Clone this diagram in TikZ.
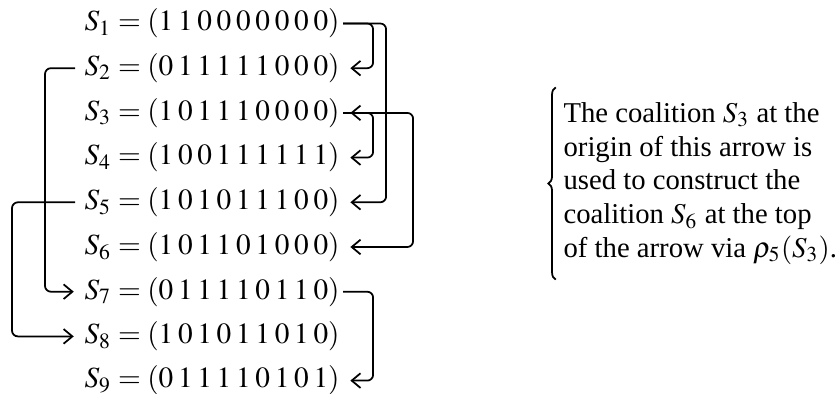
\documentclass[tikz,border=0pt]{standalone}
\usepackage{mathptmx}
\usepackage{fontspec}
\setmainfont{Liberation Serif}
\usetikzlibrary{arrows.meta,decorations.pathreplacing}
\newcommand{\bgap}{\mskip2.9mu}

\begin{document}
\begin{tikzpicture}[
  x=0.3415pt, y=-0.3415pt,
  row/.style={anchor=west, inner sep=0pt, text height=7pt, text depth=2pt},
  link/.style={semithick, rounded corners=2pt, shorten <=1pt},
  arr/.style={link, -{Straight Barb[length=3pt,width=5pt]}, shorten >=3.5pt},
  dbl/.style={link, {Straight Barb[length=3pt,width=5pt]}-{Straight Barb[length=3pt,width=5pt]}, shorten <=3.5pt, shorten >=3.5pt},
  note/.style={anchor=north west, inner sep=0pt, align=left, font={\fontsize{9.8}{11.5}\selectfont}},
  brace/.style={semithick, decorate, decoration={brace, amplitude=2.5pt}}
]
\useasboundingbox (0,0) rectangle (839,393);

% the coalitions
\node [row] (s1) at (84,23.5) {$S_1 = (1\bgap1\bgap0\bgap0\bgap0\bgap0\bgap0\bgap0\bgap0)$};
\node [row] (s2) at (84,68.2) {$S_2 = (0\bgap1\bgap1\bgap1\bgap1\bgap1\bgap0\bgap0\bgap0)$};
\node [row] (s3) at (84,112.9) {$S_3 = (1\bgap0\bgap1\bgap1\bgap1\bgap0\bgap0\bgap0\bgap0)$};
\node [row] (s4) at (84,157.6) {$S_4 = (1\bgap0\bgap0\bgap1\bgap1\bgap1\bgap1\bgap1\bgap1)$};
\node [row] (s5) at (84,202.3) {$S_5 = (1\bgap0\bgap1\bgap0\bgap1\bgap1\bgap1\bgap0\bgap0)$};
\node [row] (s6) at (84,247) {$S_6 = (1\bgap0\bgap1\bgap1\bgap0\bgap1\bgap0\bgap0\bgap0)$};
\node [row] (s7) at (84,291.7) {$S_7 = (0\bgap1\bgap1\bgap1\bgap1\bgap0\bgap1\bgap1\bgap0)$};
\node [row] (s8) at (84,336.4) {$S_8 = (1\bgap0\bgap1\bgap0\bgap1\bgap1\bgap0\bgap1\bgap0)$};
\node [row] (s9) at (84,380.6) {$S_9 = (0\bgap1\bgap1\bgap1\bgap1\bgap0\bgap1\bgap0\bgap1)$};

% arrows on the right
\draw [arr] (s1.east) -- ++(33,0) |- (s2.east);
\draw [arr] (s1.east) -- ++(46,0) |- (s5.east);
\draw [arr] (s3.east) -- ++(33,0) |- (s4.east);
\draw [dbl] (s3.east) -- ++(73,0) |- (s6.east);
\draw [arr] (s7.east) -- ++(33,0) |- (s9.east);

% arrows on the left
\draw [arr, shorten <=3pt] (s2.west) -- ++(-39,0) |- (s7.west);
\draw [arr, shorten <=3pt] (s5.west) -- ++(-72,0) |- (s8.west);

\node [note] (note) at (563,102) {The coalition $S_3$ at the\\
  origin of this arrow is\\
  used to construct the\\
  coalition $S_6$ at the top\\
  of the arrow via $\rho_5(S_3)$.};
\draw [brace] ([xshift=-2.5pt,yshift=-5pt]note.south west) -- ([xshift=-2.5pt,yshift=5pt]note.north west);
\end{tikzpicture}
\end{document}
